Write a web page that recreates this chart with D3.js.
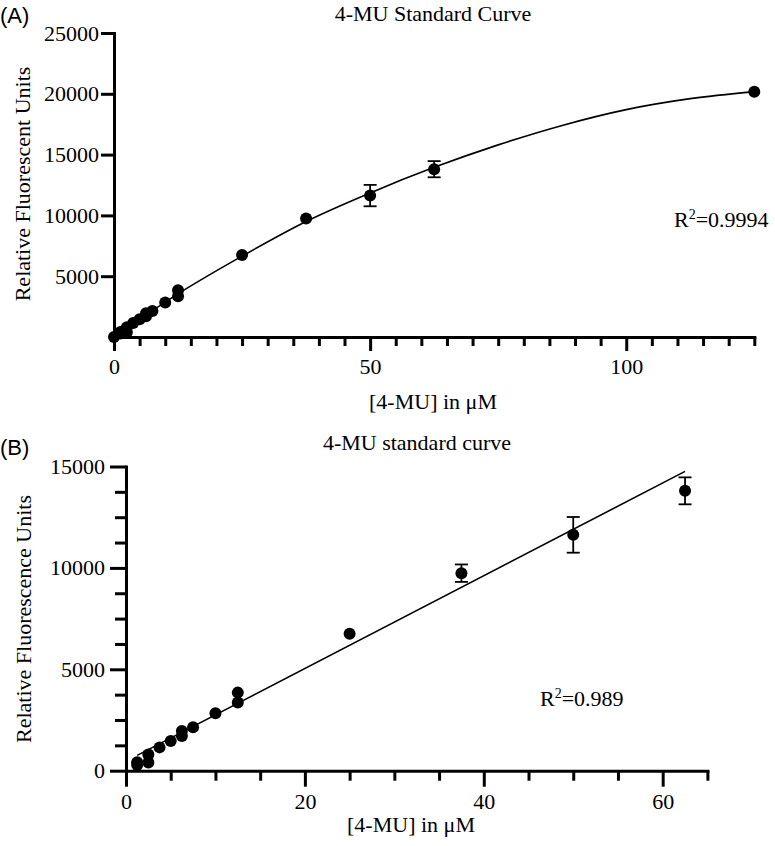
<!DOCTYPE html>
<html><head><meta charset="utf-8">
<script src="https://cdn.jsdelivr.net/npm/d3@7"></script>
<style>
body{margin:0;background:#fff;}
</style></head>
<body><svg id="c" width="775" height="846"></svg>
<script>
// ---- data ----
const concA = [0, 1.25, 1.25, 2.5, 2.5, 3.75, 5, 6.25, 6.25, 7.5, 10, 12.5, 12.5, 25, 37.5, 50, 62.5, 125];
const rfuA  = [0, 420, 280, 800, 400, 1150, 1460, 1960, 1710, 2140, 2830, 3850, 3360, 6750, 9740, 11630, 13800, 20170];
const errA  = [0, 0, 0, 0, 0, 0, 0, 0, 0, 0, 0, 0, 0, 0, 0, 880, 665, 0];
const fitAx = [0, 12.5, 25, 37.5, 50, 62.5, 75, 87.5, 100, 112.5, 125];
const fitAy = [0, 3550, 6650, 9500, 11850, 13950, 15800, 17400, 18700, 19600, 20180];

const concB = [1.25, 1.25, 2.5, 2.5, 3.75, 5, 6.25, 6.25, 7.5, 10, 12.5, 12.5, 25, 37.5, 50, 62.5];
const rfuB  = [420, 280, 800, 400, 1150, 1460, 1960, 1710, 2140, 2830, 3850, 3360, 6750, 9740, 11630, 13800];
const errB  = [0, 0, 0, 0, 0, 0, 0, 0, 0, 0, 0, 0, 0, 430, 880, 665];
const fitBx = [1.25, 62.5];
const fitBy = [755, 14760];

const yTicksA = [5000, 10000, 15000, 20000, 25000];
const xMajorA = [0, 50, 100];
const yMajorB = [0, 5000, 10000, 15000];
const xMajorB = [0, 20, 40, 60];

const SERIF = '"Liberation Serif", "Times New Roman", Times, serif';
const SANS = '"Liberation Sans", Arial, Helvetica, sans-serif';
const FS = "22px";
const svg = d3.select("#c");

function panel(o){
  const g = svg.append("g");
  const x = d3.scaleLinear().domain(o.xDom).range(o.xR);
  const y = d3.scaleLinear().domain(o.yDom).range(o.yR);

  const xMinor = d3.range(o.xDom[0], o.xDom[1] + 0.001, o.xMinorStep).filter(v => !o.xMajor.includes(v));
  const xa = g.append("g").attr("transform", `translate(0,${o.yR[0]})`);
  xa.call(d3.axisBottom(x).tickValues(xMinor).tickSize(o.xMinorLen).tickFormat(""));
  xa.select(".domain").remove();
  const xb = g.append("g").attr("transform", `translate(0,${o.yR[0]})`);
  xb.call(d3.axisBottom(x).tickValues(o.xMajor).tickSize(o.xMajorLen).tickSizeOuter(0).tickPadding(4).tickFormat(d3.format("d")));
  xb.selectAll("text").attr("dy", "0.85em");

  if (o.yMinorStep) {
    const yMinor = d3.range(o.yDom[0], o.yDom[1] + 0.001, o.yMinorStep).filter(v => !o.yMajor.includes(v));
    const ya0 = g.append("g").attr("transform", `translate(${o.xR[0]},0)`);
    ya0.call(d3.axisLeft(y).tickValues(yMinor).tickSize(o.yMinorLen).tickFormat(""));
    ya0.select(".domain").remove();
  }
  const ya = g.append("g").attr("transform", `translate(${o.xR[0]},0)`);
  ya.call(d3.axisLeft(y).tickValues(o.yMajor).tickSize(o.yMajorLen).tickSizeOuter(0).tickPadding(o.yPad).tickFormat(d3.format("d")));
  g.selectAll("path.domain").attr("stroke-width", 3).attr("stroke", "#000").attr("stroke-linecap", "square");
  g.selectAll(".tick line").attr("stroke-width", 3).attr("stroke", "#000");
  g.selectAll(".tick text").style("font-family", SERIF).style("font-size", FS).attr("fill", "#000");

  const fitPts = o.fx.map((v, i) => [v, o.fy[i]]);
  g.append("path").datum(fitPts)
    .attr("d", d3.line().x(d => x(d[0])).y(d => y(d[1])).curve(d3.curveMonotoneX))
    .attr("fill", "none").attr("stroke", "#000").attr("stroke-width", 1.6);

  const pts = o.cx.map((v, i) => ({x: v, y: o.cy[i], e: o.ce[i]}));
  const eb = g.append("g").attr("stroke", "#000").attr("stroke-width", 1.8);
  pts.filter(d => d.e > 0).forEach(d => {
    eb.append("line").attr("x1", x(d.x)).attr("x2", x(d.x)).attr("y1", y(d.y - d.e)).attr("y2", y(d.y + d.e));
    [d.y - d.e, d.y + d.e].forEach(v => eb.append("line")
      .attr("x1", x(d.x) - 6.5).attr("x2", x(d.x) + 6.5).attr("y1", y(v)).attr("y2", y(v)));
  });
  g.append("g").selectAll("circle").data(pts).join("circle")
    .attr("cx", d => x(d.x)).attr("cy", d => y(d.y)).attr("r", 6).attr("fill", "#000");

  const txt = (sel) => sel.style("font-family", SERIF).style("font-size", FS).attr("fill", "#000");
  txt(g.append("text").attr("x", o.titleX).attr("y", o.titleY).attr("text-anchor", "middle").text(o.title));
  txt(g.append("text").attr("x", o.xtX).attr("y", o.xtY).attr("text-anchor", "middle").text("[4-MU] in μM"));
  txt(g.append("text").attr("transform", `translate(${o.ytX},${o.ytY}) rotate(-90)`).attr("text-anchor", "middle").text(o.ylab));
  const r = txt(g.append("text").attr("x", o.rX).attr("y", o.rY));
  r.append("tspan").text("R");
  r.append("tspan").style("font-size", "14px").attr("dy", -8).text("2");
  r.append("tspan").attr("dy", 8).text(o.r2);
  g.append("text").attr("x", 0).attr("y", o.panY).style("font-size", "22px")
    .style("font-family", SANS).attr("fill", "#000").text(o.panel);
}

panel({
  xDom: [0, 125], xR: [114, 754.3], yDom: [0, 25000], yR: [337, 33],
  xMajor: xMajorA, xMinorStep: 5, xMinorLen: 9, xMajorLen: 14,
  yMajor: yTicksA, yMinorStep: 0, yMajorLen: 13, yPad: 2,
  cx: concA, cy: rfuA, ce: errA, fx: fitAx, fy: fitAy,
  title: "4-MU Standard Curve", titleX: 433, titleY: 21,
  xtX: 433, xtY: 409, ytX: 30, ytY: 184, ylab: "Relative Fluorescent Units",
  rX: 674, rY: 227, r2: "=0.9994", panel: "(A)", panY: 23
});

panel({
  xDom: [0, 65], xR: [126, 707.4], yDom: [0, 15000], yR: [770.7, 466.5],
  xMajor: xMajorB, xMinorStep: 5, xMinorLen: 10, xMajorLen: 16,
  yMajor: yMajorB, yMinorStep: 1250, yMinorLen: 11, yMajorLen: 16, yPad: 5,
  cx: concB, cy: rfuB, ce: errB, fx: fitBx, fy: fitBy,
  title: "4-MU standard curve", titleX: 417, titleY: 450,
  xtX: 411, xtY: 832, ytX: 31, ytY: 619, ylab: "Relative Fluorescence Units",
  rX: 540, rY: 706, r2: "=0.989", panel: "(B)", panY: 455
});
</script></body></html>
